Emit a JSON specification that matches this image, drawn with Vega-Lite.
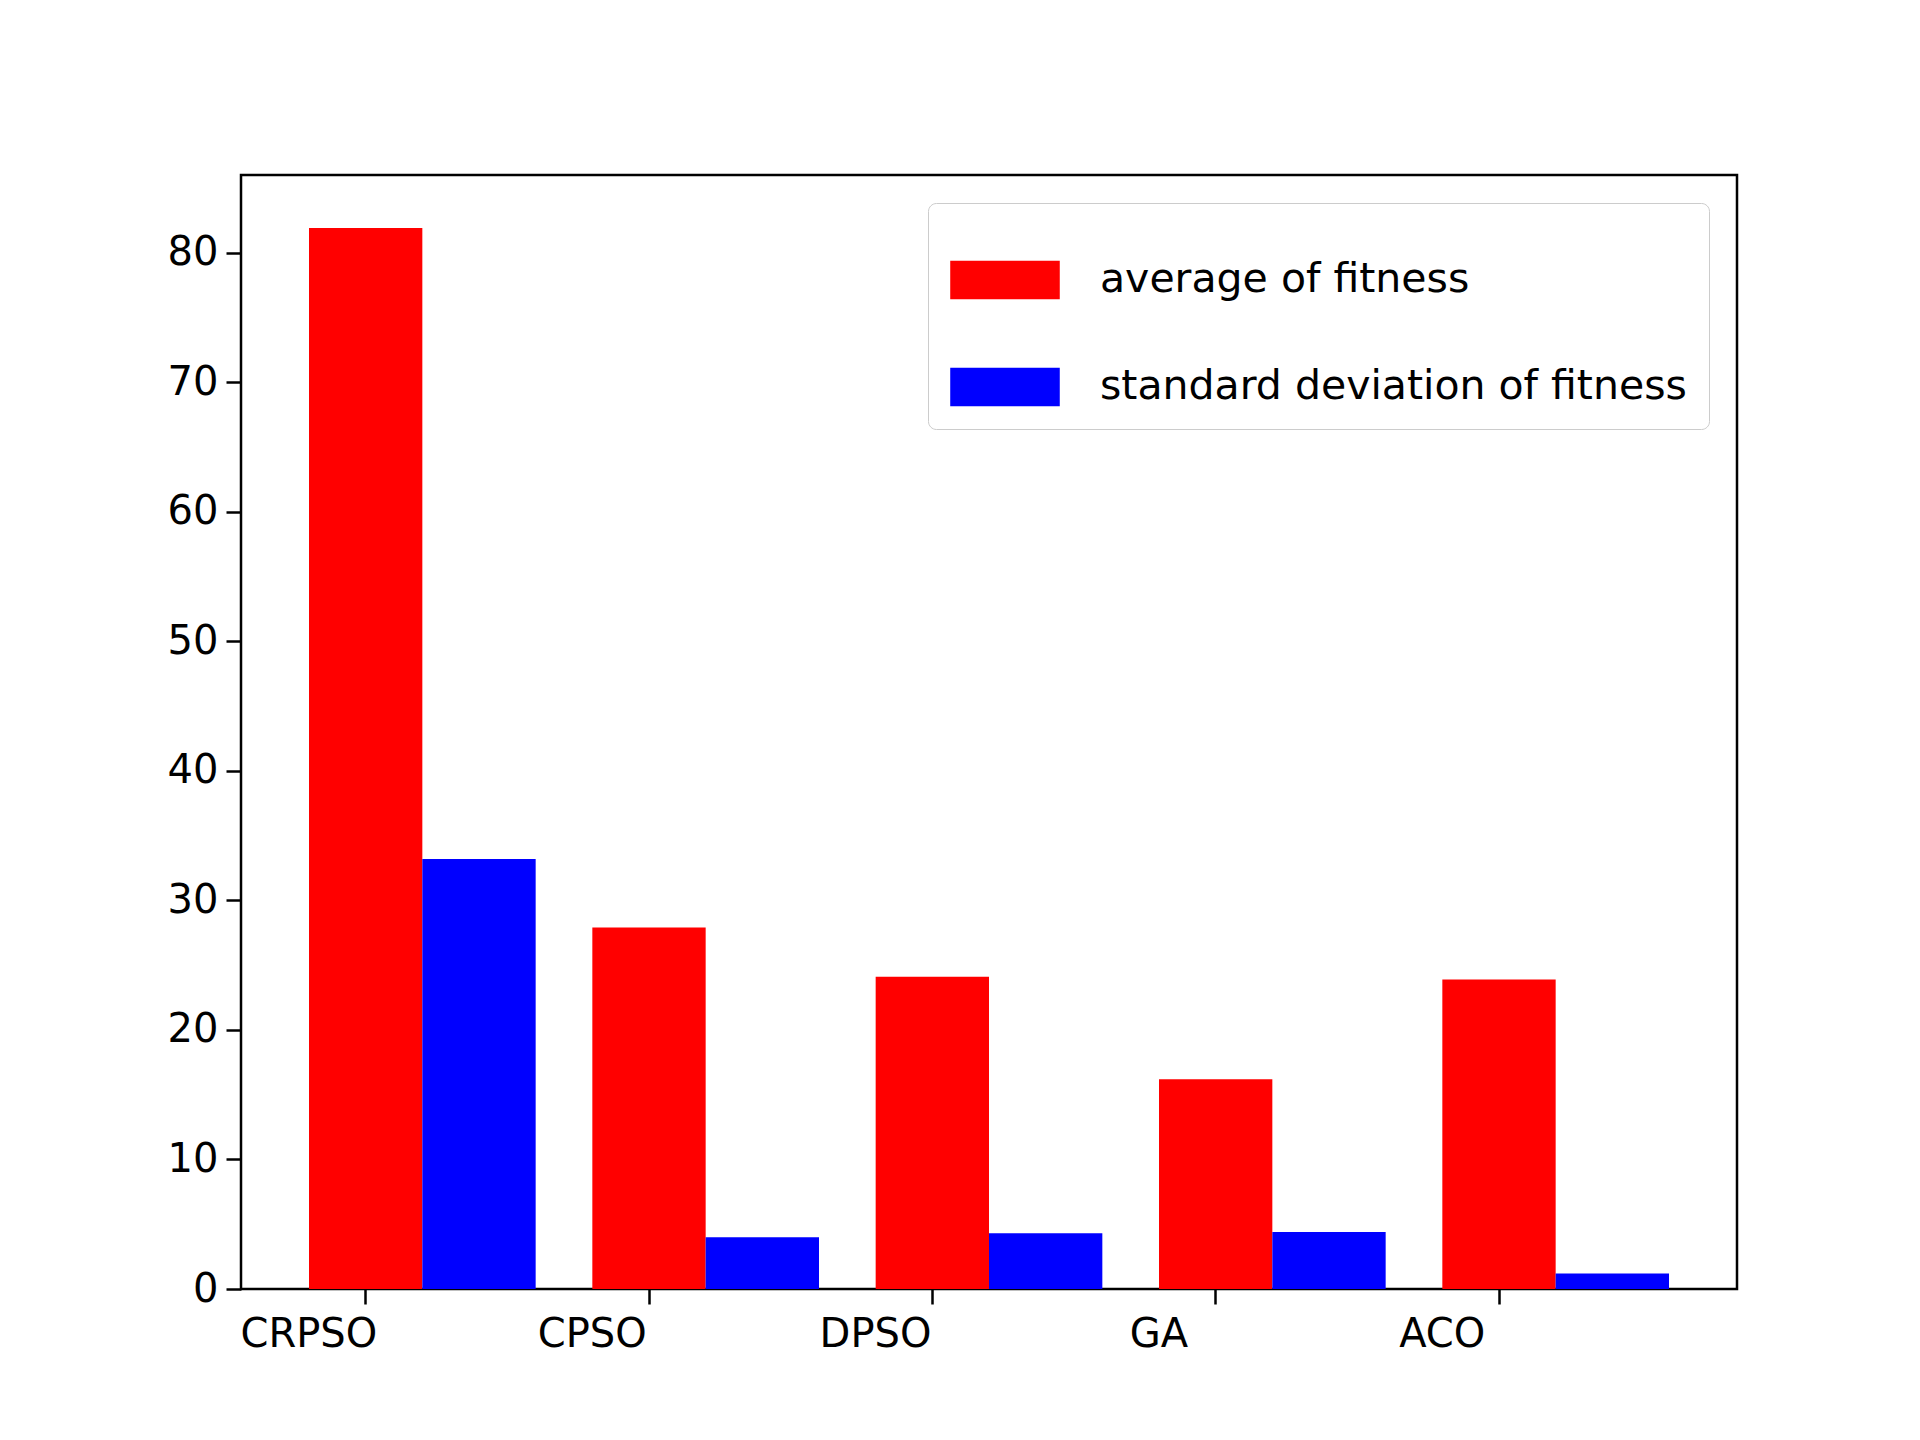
{
  "$schema": "https://vega.github.io/schema/vega-lite/v6.json",
  "autosize": "none",
  "width": 1496,
  "height": 1114,
  "padding": {"left": 241, "top": 175, "right": 183, "bottom": 151},
  "background": "white",
  "config": {
    "font": "DejaVu Sans",
    "view": {"stroke": "black", "strokeWidth": 2.5}
  },
  "data": {
    "values": [
      {"algorithm": "CRPSO", "measure": "average of fitness", "value": 81.9},
      {"algorithm": "CRPSO", "measure": "standard deviation of fitness", "value": 33.2},
      {"algorithm": "CPSO", "measure": "average of fitness", "value": 27.9},
      {"algorithm": "CPSO", "measure": "standard deviation of fitness", "value": 4.0},
      {"algorithm": "DPSO", "measure": "average of fitness", "value": 24.1},
      {"algorithm": "DPSO", "measure": "standard deviation of fitness", "value": 4.3},
      {"algorithm": "GA", "measure": "average of fitness", "value": 16.2},
      {"algorithm": "GA", "measure": "standard deviation of fitness", "value": 4.4},
      {"algorithm": "ACO", "measure": "average of fitness", "value": 23.9},
      {"algorithm": "ACO", "measure": "standard deviation of fitness", "value": 1.2}
    ]
  },
  "mark": {"type": "bar"},
  "encoding": {
    "x": {
      "field": "algorithm",
      "type": "nominal",
      "sort": ["CRPSO", "CPSO", "DPSO", "GA", "ACO"],
      "scale": {"paddingInner": 0.2, "paddingOuter": 0.24},
      "axis": {
        "title": null,
        "labelAngle": 0,
        "labelFontSize": 40,
        "labelColor": "black",
        "labelPadding": 10,
        "tickOffset": -57,
        "labelOffset": -57,
        "tickSize": 15,
        "tickWidth": 2.5,
        "tickColor": "black",
        "domain": false,
        "grid": false
      }
    },
    "xOffset": {
      "field": "measure",
      "type": "nominal",
      "sort": ["average of fitness", "standard deviation of fitness"]
    },
    "y": {
      "field": "value",
      "type": "quantitative",
      "scale": {"domain": [0, 86], "nice": false},
      "axis": {
        "title": null,
        "values": [0, 10, 20, 30, 40, 50, 60, 70, 80],
        "labelFontSize": 40,
        "labelColor": "black",
        "labelPadding": 8,
        "tickSize": 15,
        "tickWidth": 2.5,
        "tickColor": "black",
        "domain": false,
        "grid": false
      }
    },
    "color": {
      "field": "measure",
      "type": "nominal",
      "scale": {"domain": ["average of fitness", "standard deviation of fitness"], "range": ["red", "blue"]},
      "legend": {
        "title": null,
        "orient": "top-right",
        "offset": 28,
        "labelFontSize": 41,
        "labelColor": "black",
        "labelLimit": 1000,
        "labelOffset": 40,
        "symbolType": "M-1,-0.35L1,-0.35L1,0.35L-1,0.35Z",
        "symbolSize": 12000,
        "symbolStrokeWidth": 0,
        "rowPadding": 32,
        "padding": 22,
        "strokeColor": "#cccccc",
        "cornerRadius": 8,
        "fillColor": "white"
      }
    }
  }
}
